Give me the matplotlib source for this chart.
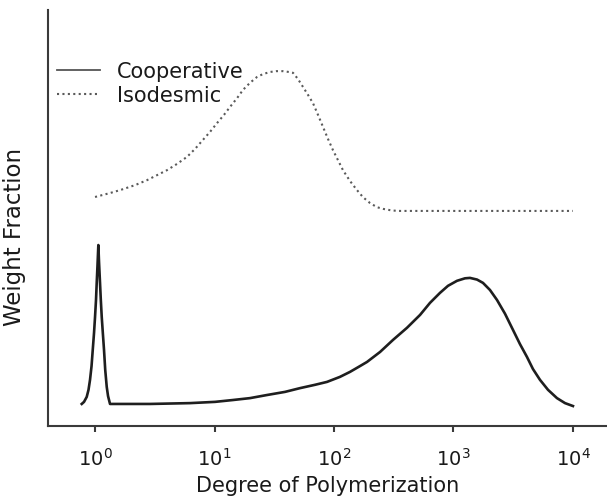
import matplotlib
matplotlib.use("Agg")
import matplotlib.pyplot as plt

# Degree of polymerization (x) and weight fraction (arbitrary units, y)
coop_dp = [0.774, 0.809, 0.852, 0.882, 0.908, 0.935, 0.957, 0.981, 1.0, 1.019,
           1.033, 1.049, 1.066, 1.080, 1.101, 1.118, 1.138, 1.162, 1.189, 1.217,
           1.253, 1.285, 1.335, 2.886, 6.24, 10.1, 14.3, 19.8, 27.5, 38.9, 51.9,
           69.3, 87.4, 112, 136, 165, 189, 243, 312, 408, 525, 636, 771, 900,
           1070, 1248, 1374, 1574, 1766, 2020, 2313, 2698, 3148, 3600, 4122,
           4625, 5295, 6180, 7350, 8580, 10000]
coop_wf = [0.053, 0.058, 0.070, 0.087, 0.111, 0.144, 0.183, 0.224, 0.262, 0.303,
           0.344, 0.387, 0.435, 0.394, 0.344, 0.303, 0.262, 0.224, 0.183, 0.135,
           0.094, 0.072, 0.053, 0.053, 0.055, 0.058, 0.0625, 0.067, 0.0745,
           0.082, 0.091, 0.099, 0.106, 0.118, 0.130, 0.144, 0.154, 0.178, 0.207,
           0.236, 0.267, 0.296, 0.320, 0.337, 0.349, 0.355, 0.356, 0.352, 0.344,
           0.327, 0.303, 0.270, 0.231, 0.197, 0.166, 0.137, 0.111, 0.087, 0.067,
           0.055, 0.048]

iso_dp = [1.0, 1.335, 1.619, 2.162, 2.724, 3.303, 4.004, 4.856, 5.888, 6.868,
          8.013, 9.17, 10.49, 12.01, 13.48, 15.43, 17.32, 19.82, 22.68, 25.46,
          29.14, 32.71, 37.43, 42.02, 45.39, 49.96, 55.04, 60.58, 66.73, 73.47,
          80.90, 89.09, 98.09, 108.0, 118.9, 136.1, 155.8, 174.9, 200.1, 228.9,
          257.0, 305.8, 356.6, 1000, 10000]
iso_wf = [0.5505, 0.560, 0.567, 0.579, 0.591, 0.603, 0.615, 0.630, 0.647, 0.666,
          0.688, 0.707, 0.728, 0.748, 0.767, 0.788, 0.808, 0.825, 0.839, 0.846,
          0.851, 0.853, 0.853, 0.851, 0.849, 0.834, 0.815, 0.796, 0.776, 0.748,
          0.719, 0.690, 0.663, 0.639, 0.615, 0.589, 0.567, 0.550, 0.536, 0.526,
          0.522, 0.518, 0.517, 0.517, 0.517]

tick_vals = [1, 10, 100, 1000, 10000]
tick_labels = [r"$10^{0}$", r"$10^{1}$", r"$10^{2}$", r"$10^{3}$", r"$10^{4}$"]

plt.rcParams['font.family'] = ['DejaVu Sans']

fig = plt.figure(figsize=(6.07, 4.99), dpi=100)
ax = fig.add_axes([48/607, 73/499, 559/607, 416/499])

ax.plot(coop_dp, coop_wf, color='#1e1e1e', lw=1.9, label='Cooperative')
ax.plot(iso_dp, iso_wf, color='#5a5a5a', lw=1.5, linestyle=(0, (1, 1.6)),
        label='Isodesmic')

ax.set_xscale('log')
ax.set_xlim(0.404, 19270)
ax.set_ylim(0, 1)
ax.set_xticks(tick_vals)
ax.set_xticklabels(tick_labels)
ax.minorticks_off()
ax.set_yticks([])

for s in ['top', 'right']:
    ax.spines[s].set_visible(False)
for s in ['left', 'bottom']:
    ax.spines[s].set_color('#3a3a3a')
    ax.spines[s].set_linewidth(1.5)

ax.tick_params(axis='x', direction='out', length=4, width=1.5, color='#3a3a3a',
               labelsize=14, pad=12, labelcolor='#1a1a1a')

ax.set_xlabel('Degree of Polymerization', fontsize=15, color='#1a1a1a', labelpad=4)
ax.set_ylabel('Weight Fraction', fontsize=16.5, color='#1a1a1a')
ax.yaxis.set_label_coords(-0.039, 0.454)

leg = ax.legend(loc='upper left', bbox_to_anchor=(0.016, 0.876), frameon=False,
                fontsize=15, handlelength=2.07, handletextpad=0.8,
                labelspacing=0.2, borderaxespad=0, borderpad=0)
for t in leg.get_texts():
    t.set_color('#1a1a1a')
leg.get_lines()[0].set_linewidth(1.3)
leg.get_lines()[0].set_color('#555555')

fig.savefig('out.png', dpi=100, facecolor='white')
